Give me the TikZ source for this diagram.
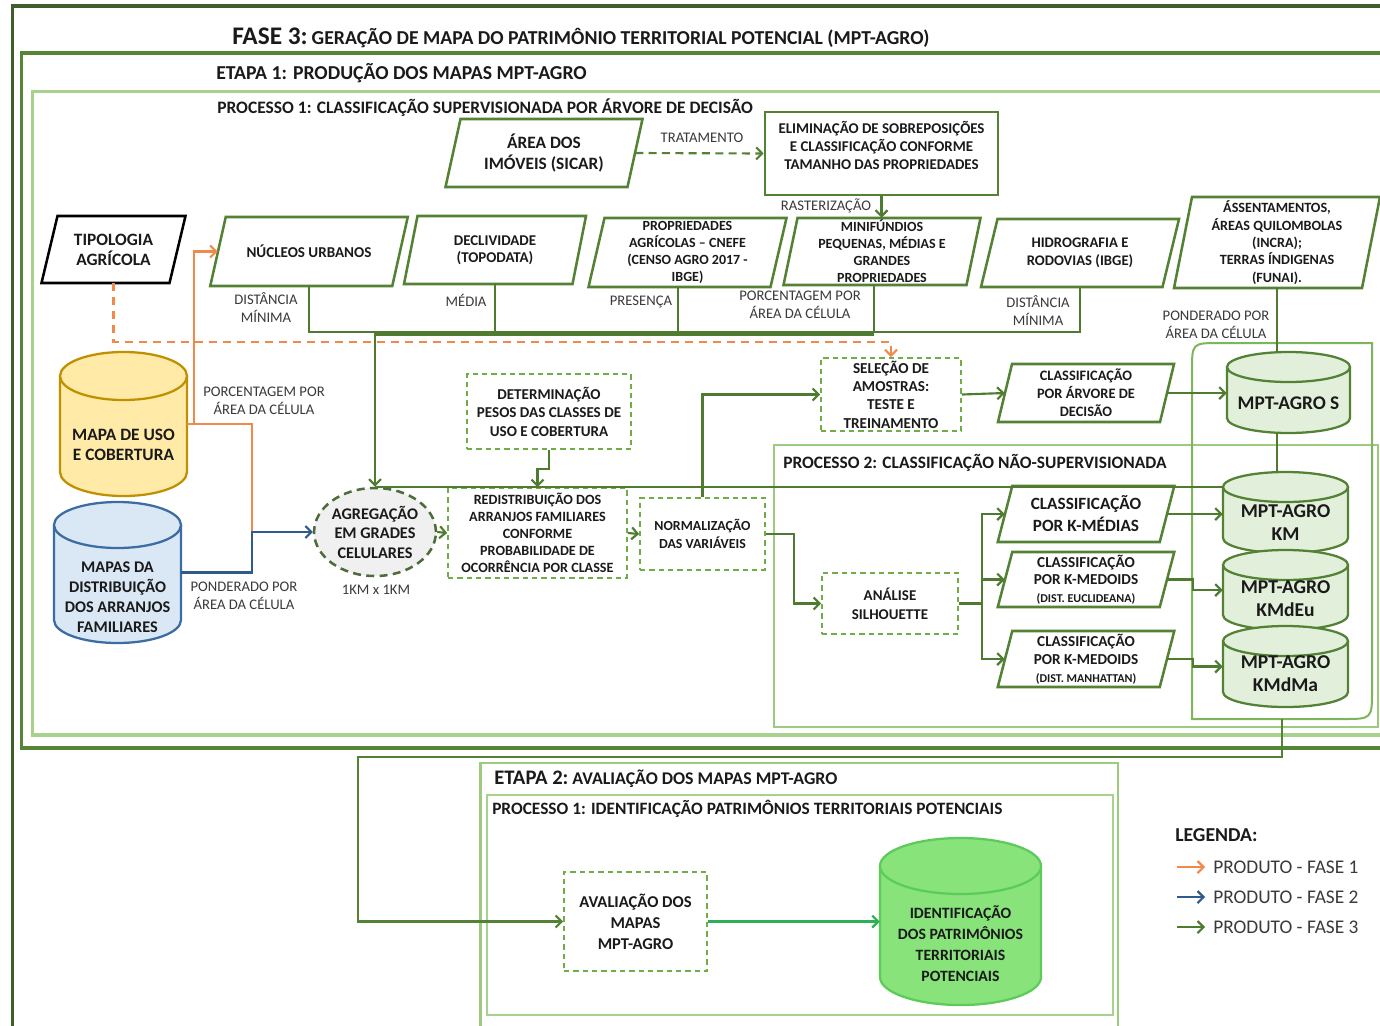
\documentclass[tikz,border=0pt]{standalone}
\usepackage{fontspec}
\setmainfont{Carlito}
\usetikzlibrary{arrows.meta,shapes.geometric,calc}
\definecolor{cF3}{HTML}{3E5F2B}
\definecolor{cE1}{HTML}{568536}
\definecolor{cP1}{HTML}{A9D18E}
\definecolor{cP2}{HTML}{9CCB7F}
\definecolor{cCt}{HTML}{7DB55A}
\definecolor{cG}{HTML}{4F7B31}
\definecolor{cBd}{HTML}{548235}
\definecolor{cDs}{HTML}{70AD47}
\definecolor{cOr}{HTML}{F08A4B}
\definecolor{cBl}{HTML}{2F5B8C}
\definecolor{cYf}{HTML}{FFEAA8}
\definecolor{cYd}{HTML}{BF9000}
\definecolor{cBf}{HTML}{DAE7F4}
\definecolor{cBdd}{HTML}{3B6DA3}
\definecolor{cMf}{HTML}{E2EFDA}
\definecolor{cIf}{HTML}{88E37B}
\definecolor{cId}{HTML}{5CCB5A}
\definecolor{cAr}{HTML}{2EAF55}
\definecolor{cTx}{HTML}{1A1A1A}
\definecolor{cLb}{HTML}{3A3A3A}
\definecolor{cAg}{HTML}{4E6B3A}
\definecolor{cGy}{HTML}{F0F0F0}
\newcommand\tf[2]{\fontsize{#1}{#2}\selectfont}
\newcommand\mypara[9]{%
  \draw[#1] ({#4-#6/2+#8/2},{#5-#7/2}) -- ({#4+#6/2+#8/2},{#5-#7/2}) -- ({#4+#6/2-#8/2},{#5+#7/2}) -- ({#4-#6/2-#8/2},{#5+#7/2}) -- cycle;
  \node[txt,#2,minimum width={#6*0.75pt},minimum height={#7*0.75pt}] (#3) at (#4,#5) {#9};
}
\newcommand\mycyl[7]{%
  \fill[#1] ({#3-#4},{#5+#7}) rectangle ({#3+#4},{#6-#7});
  \fill[#1] (#3,{#6-#7}) ellipse[x radius=#4, y radius=#7];
  \draw[#2] ({#3-#4},{#5+#7}) -- ({#3-#4},{#6-#7}) arc[start angle=180, end angle=0, x radius=#4, y radius=#7] -- ({#3+#4},{#5+#7});
  \draw[#2, fill=#1] (#3,{#5+#7}) ellipse[x radius=#4, y radius=#7];
}
\begin{document}
\begin{tikzpicture}[x=0.75pt,y=-0.75pt,
  txt/.style={inner sep=0pt, text=cTx, align=center},
  lbl/.style={inner sep=0pt, text=cLb, align=center, font=\tf{11pt}{13.5pt}},
  conn/.style={draw=cG, line width=1.6pt},
  arr/.style={conn, -{Straight Barb[length=4.5pt,width=9pt]}},
  darr/.style={arr, draw=cBd, dash pattern=on 6pt off 4pt},
  oconn/.style={draw=cOr, line width=1.6pt},
  oarr/.style={oconn, -{Straight Barb[length=4.5pt,width=9pt]}},
  odash/.style={oarr, dash pattern=on 6pt off 4.5pt},
  barr/.style={draw=cBl, line width=1.6pt, -{Straight Barb[length=4.5pt,width=9pt]}},
  garr/.style={draw=cAr, line width=1.6pt, -{Straight Barb[length=4.5pt,width=9pt]}},
  para/.style={draw=cBd, line width=1.9pt, fill=white},
  dbox/.style={txt, draw=cDs, line width=1.3pt, dash pattern=on 4pt off 3pt, fill=white},
  cylb/.style={line width=1.7pt}
]
\fill[white] (0,0) rectangle (1380,1025);
\path[use as bounding box] (0,0) rectangle (1380,1025);

% frames
\draw[cF3, line width=2.4pt] (12.5,1030) -- (12.5,6) -- (1390,6);
\draw[cE1, line width=2.4pt] (1390,53) -- (21.5,53) -- (21.5,748) -- (1390,748);
\draw[cP1, line width=2.4pt] (1390,91.5) -- (32.5,91.5) -- (32.5,735) -- (1390,735);
\draw[cP2, line width=1.8pt] (774,445) rectangle (1378,727);
\draw[cP2, line width=2pt] (1118,1030) -- (1118,763) -- (480.5,763) -- (480.5,1030);
\draw[cP1, line width=2pt] (487,795) rectangle (1113,1015);
\draw[cCt, line width=1.5pt] (1192,719) -- (1192,371) .. controls (1192,343) .. (1220,343) -- (1372,343) -- (1372,690) .. controls (1372,719) .. (1343,719) -- cycle;
\coordinate (contB) at (1282,719);

% titles
\node[txt, anchor=base west] (tF3) at (232,44) {{\tf{19pt}{22pt}\bfseries FASE 3:} {\tf{14.8pt}{17pt}\bfseries GERAÇÃO DE MAPA DO PATRIMÔNIO TERRITORIAL POTENCIAL (MPT-AGRO)}};
\node[txt, anchor=base west, font=\tf{14.8pt}{17pt}\bfseries] (tE1) at (216,79) {ETAPA 1: PRODUÇÃO DOS MAPAS MPT-AGRO};
\node[txt, anchor=base west, font=\tf{13.1pt}{15pt}\bfseries] (tP1) at (217,113) {PROCESSO 1: CLASSIFICAÇÃO SUPERVISIONADA POR ÁRVORE DE DECISÃO};
\node[txt, anchor=base west, font=\tf{13.05pt}{15pt}\bfseries] (tP2) at (783,468) {PROCESSO 2: CLASSIFICAÇÃO NÃO-SUPERVISIONADA};
\node[txt, anchor=base west] (tE2) at (494,784) {{\tf{15.5pt}{18pt}\bfseries ETAPA 2:} {\tf{13.4pt}{15pt}\bfseries AVALIAÇÃO DOS MAPAS MPT-AGRO}};
\node[txt, anchor=base west, font=\tf{13pt}{15pt}\bfseries] (tP3) at (492,814) {PROCESSO 1: IDENTIFICAÇÃO PATRIMÔNIOS TERRITORIAIS POTENCIAIS};

% parallelograms
\mypara{para}{font=\tf{13pt}{15.75pt}\bfseries}{area}{544}{153}{182}{68}{15}{ÁREA DOS\\IMÓVEIS (SICAR)}
\mypara{para,draw=black}{font=\tf{13pt}{15pt}\bfseries}{tip}{113.5}{249.5}{128}{67}{16}{TIPOLOGIA\\AGRÍCOLA}
\mypara{para}{font=\tf{11.3pt}{13pt}\bfseries}{nuc}{309}{251.5}{182}{69}{15.5}{NÚCLEOS URBANOS}
\mypara{para}{font=\tf{11.2pt}{12.75pt}\bfseries}{decl}{495}{250}{168.5}{68}{13.5}{DECLIVIDADE\\(TOPODATA)}
\mypara{para}{font=\tf{10.5pt}{12.75pt}\bfseries}{prop}{687.5}{252.5}{182}{69}{16}{PROPRIEDADES\\AGRÍCOLAS – CNEFE\\(CENSO AGRO 2017 -\\IBGE)}
\mypara{para}{font=\tf{10.5pt}{12.75pt}\bfseries}{mini}{882}{251.5}{183}{67}{14}{MINIFÚNDIOS\\PEQUENAS, MÉDIAS E\\GRANDES\\PROPRIEDADES}
\mypara{para}{font=\tf{11pt}{13.5pt}\bfseries}{hid}{1080}{253}{181.5}{68}{16.5}{HIDROGRAFIA E\\RODOVIAS (IBGE)}
\mypara{para}{font=\tf{10.6pt}{13pt}\bfseries}{asse}{1277}{242.5}{188}{91}{18}{ÁSSENTAMENTOS,\\ÁREAS QUILOMBOLAS\\(INCRA);\\TERRAS ÍNDIGENAS\\(FUNAI).}
\mypara{para}{font=\tf{10.8pt}{13.5pt}\bfseries}{arv}{1086}{393}{162}{58}{14}{CLASSIFICAÇÃO\\POR ÁRVORE DE\\DECISÃO}
\mypara{para}{font=\tf{12.9pt}{16.5pt}\bfseries}{kmed}{1086}{514}{162}{56}{14.5}{CLASSIFICAÇÃO\\POR K-MÉDIAS}
\mypara{para}{font=\tf{11.4pt}{13.3pt}\bfseries}{keu}{1086}{579.5}{162}{55}{14.5}{CLASSIFICAÇÃO\\POR K-MEDOIDS\\{\tf{9pt}{11pt}(DIST. EUCLIDEANA)}}
\mypara{para}{font=\tf{11.4pt}{13.3pt}\bfseries}{kma}{1086}{659}{162}{56}{14.5}{CLASSIFICAÇÃO\\POR K-MEDOIDS\\{\tf{9pt}{11pt}(DIST. MANHATTAN)}}

% rectangle
\node[txt, draw=cBd, line width=1.9pt, minimum width={233*0.75pt}, minimum height={83*0.75pt}] (elim) at (881.5,153.5) {};
\node[txt, font=\tf{11.2pt}{13.5pt}\bfseries] (elimT) at (881.5,145) {ELIMINAÇÃO DE SOBREPOSIÇÕES\\E CLASSIFICAÇÃO CONFORME\\TAMANHO DAS PROPRIEDADES};

% dashed boxes
\node[dbox, minimum width={164*0.75pt}, minimum height={75*0.75pt}, font=\tf{11.3pt}{13.9pt}\bfseries] (det) at (549,411.5) {DETERMINAÇÃO\\PESOS DAS CLASSES DE\\USO E COBERTURA};
\node[dbox, minimum width={179*0.75pt}, minimum height={90*0.75pt}, font=\tf{10.6pt}{12.75pt}\bfseries] (redis) at (537.5,533) {REDISTRIBUIÇÃO DOS\\ARRANJOS FAMILIARES\\CONFORME\\PROBABILIDADE DE\\OCORRÊNCIA POR CLASSE};
\node[dbox, minimum width={125*0.75pt}, minimum height={72*0.75pt}, font=\tf{10.4pt}{13.5pt}\bfseries] (norm) at (702.5,534) {NORMALIZAÇÃO\\DAS VARIÁVEIS};
\node[dbox, minimum width={140*0.75pt}, minimum height={73*0.75pt}, font=\tf{11.4pt}{13.7pt}\bfseries] (sel) at (891,394.5) {SELEÇÃO DE\\AMOSTRAS:\\TESTE E\\TREINAMENTO};
\node[dbox, minimum width={136*0.75pt}, minimum height={61*0.75pt}, font=\tf{11.2pt}{14.25pt}\bfseries] (anal) at (890,603.5) {ANÁLISE\\SILHOUETTE};
\node[dbox, minimum width={143*0.75pt}, minimum height={99*0.75pt}, font=\tf{12.4pt}{15.75pt}\bfseries] (aval) at (635.5,921.5) {AVALIAÇÃO DOS\\MAPAS\\MPT-AGRO};
\node[txt, ellipse, draw=cAg, line width=1.9pt, dash pattern=on 6pt off 4pt, fill=cGy, minimum width={110*0.75pt}, minimum height={88*0.75pt}, font=\tf{12.2pt}{14.6pt}\bfseries] (agr) at (375,532) {AGREGAÇÃO\\EM GRADES\\CELULARES};

% cylinders
\mycyl{cYf}{draw=cYd,cylb}{123.5}{63.5}{352}{496}{24}
\node[txt, minimum width={127*0.75pt}, minimum height={144*0.75pt}] (uso) at (123.5,424) {};
\node[txt, font=\tf{13pt}{15pt}\bfseries] (usoT) at (123.5,445) {MAPA DE USO\\E COBERTURA};
\mycyl{cBf}{draw=cBdd,cylb}{117.5}{63.5}{502}{643}{23}
\node[txt, minimum width={127*0.75pt}, minimum height={141*0.75pt}] (dist) at (117.5,572.5) {};
\node[txt, font=\tf{12.2pt}{15pt}\bfseries] (distT) at (117.5,597) {MAPAS DA\\DISTRIBUIÇÃO\\DOS ARRANJOS\\FAMILIARES};
\mycyl{cMf}{draw=cBd,cylb}{1288.5}{61.5}{352}{433}{15}
\node[txt, minimum width={123*0.75pt}, minimum height={81*0.75pt}] (mptS) at (1288.5,392.5) {};
\node[txt, font=\tf{14.5pt}{17pt}\bfseries] (mptST) at (1288.5,403) {MPT-AGRO S};
\mycyl{cMf}{draw=cBd,cylb}{1285.5}{62.5}{472}{553}{15}
\node[txt, minimum width={125*0.75pt}, minimum height={81*0.75pt}] (km) at (1285.5,512.5) {};
\node[txt, font=\tf{14.7pt}{17.25pt}\bfseries] (kmT) at (1285.5,522.5) {MPT-AGRO\\KM};
\mycyl{cMf}{draw=cBd,cylb}{1285.5}{62.5}{550}{630}{15}
\node[txt, minimum width={125*0.75pt}, minimum height={80*0.75pt}] (kmdeu) at (1285.5,590) {};
\node[txt, font=\tf{14.7pt}{17.25pt}\bfseries] (kmdeuT) at (1285.5,598.5) {MPT-AGRO\\KMdEu};
\mycyl{cMf}{draw=cBd,cylb}{1285.5}{62.5}{626}{707}{15}
\node[txt, minimum width={125*0.75pt}, minimum height={81*0.75pt}] (kmdma) at (1285.5,666.5) {};
\node[txt, font=\tf{14.7pt}{17.25pt}\bfseries] (kmdmaT) at (1285.5,674) {MPT-AGRO\\KMdMa};
\mycyl{cIf}{draw=cId,cylb}{960.5}{80.5}{838}{1005}{28}
\node[txt, minimum width={161*0.75pt}, minimum height={167*0.75pt}] (ident) at (960.5,921.5) {};
\node[txt, font=\tf{11.8pt}{15.75pt}\bfseries] (identT) at (960.5,943.5) {IDENTIFICAÇÃO\\DOS PATRIMÔNIOS\\TERRITORIAIS\\POTENCIAIS};

% connector labels
\node[lbl] (lb1) at (266,307) {DISTÂNCIA\\MÍNIMA};
\node[lbl] (lb2) at (466,300) {MÉDIA};
\node[lbl] (lb3) at (641,302) {PRESENÇA};
\node[lbl] (lb4) at (800,305) {PORCENTAGEM POR\\ÁREA DA CÉLULA};
\node[lbl] (lb5) at (1038,310) {DISTÂNCIA\\MÍNIMA};
\node[lbl] (lb6) at (1216,325) {PONDERADO POR\\ÁREA DA CÉLULA};
\node[lbl] (lb7) at (264,401) {PORCENTAGEM POR\\ÁREA DA CÉLULA};
\node[lbl] (lb8) at (244,596) {PONDERADO POR\\ÁREA DA CÉLULA};
\node[lbl] (lb9) at (376,590) {1KM x 1KM};
\node[lbl] (lb10) at (702,138) {TRATAMENTO};
\node[lbl] (lb11) at (826,206) {RASTERIZAÇÃO};

% connectors
\coordinate (bus) at (0,332);
\draw[darr] (area.east) -- (elim.west);
\draw[arr] (elim.south) -- (elim.south |- mini.north);
\draw[conn] (nuc.south) |- (hid.south |- bus) -- (hid.south);
\draw[conn] (decl.south) -- (decl.south |- bus);
\draw[conn] ($(prop.south)+(-9.5,0)$) -- ($(prop.south |- bus)+(-9.5,0)$);
\draw[conn] ($(mini.south)+(-8,0)$) -- ($(mini.south |- bus)+(-8,0)$);
\draw[conn] ($(agr.north |- bus)+(0,2.5)$) -- ($(mini.south |- bus)+(-8,2.5)$);
\draw[arr] (agr.north |- bus) -- (agr.north);
\coordinate (fb) at (1223,487);
\draw[conn] (fb) -- (fb -| agr.north);
\draw[arr] (det.south) -- ++(0,19) -| (redis.north);
\draw[arr] (agr.east) -- (redis.west);
\draw[arr] (redis.east) -- (norm.west);
\draw[arr] (norm.north) |- (sel.west);
\draw[arr] (norm.east) -- ++(28,0) |- (anal.west);
\draw[arr] (sel.east) -- (arv.west);
\draw[arr] (arv.east) -- (arv.east -| mptS.west);
\draw[arr] (anal.east) -- ++(23,0) coordinate (br) |- (kmed.west);
\draw[arr] (br) |- (keu.west);
\draw[arr] (br) |- (kma.west);
\draw[arr] (kmed.east) -- (kmed.east -| km.west);
\draw[arr] (keu.east) -- ++(26,0) |- (kmdeu.west);
\draw[arr] (kma.east) -- ++(26,0) |- (kmdma.west);
\draw[conn] (asse.south) -- (asse.south |- mptS.north);
\draw[conn] (mptS.south -| asse.south) -- (km.north -| asse.south);
\draw[arr, draw=cBd] (contB) |- (358,757) |- (aval.west);
\draw[garr] (aval.east) -- (ident.west);
\draw[odash] (tip.south) |- ($(sel.north)+(0,-15)$) -- (sel.north);
\draw[oarr] (uso.east) -- ++(7,0) |- (nuc.west);
\coordinate (jn) at (252,532);
\draw[oconn] (uso.east) -| (jn);
\draw[barr] (dist.east) -| (jn) -- (agr.west);

% legend
\node[txt, anchor=base west, font=\tf{14.8pt}{17pt}\bfseries] (leg) at (1175,841) {LEGENDA:};
\coordinate (l1a) at (1177,867); \coordinate (l1b) at (1205,867);
\coordinate (l2a) at (1177,897); \coordinate (l2b) at (1205,897);
\coordinate (l3a) at (1177,927); \coordinate (l3b) at (1205,927);
\draw[oarr] (l1a) -- (l1b);
\draw[barr] (l2a) -- (l2b);
\draw[arr] (l3a) -- (l3b);
\node[txt, anchor=west, text=cLb, font=\tf{14.5pt}{17pt}] (lt1) at (1213,867) {PRODUTO - FASE 1};
\node[txt, anchor=west, text=cLb, font=\tf{14.5pt}{17pt}] (lt2) at (1213,897) {PRODUTO - FASE 2};
\node[txt, anchor=west, text=cLb, font=\tf{14.5pt}{17pt}] (lt3) at (1213,927) {PRODUTO - FASE 3};
\end{tikzpicture}
\end{document}
